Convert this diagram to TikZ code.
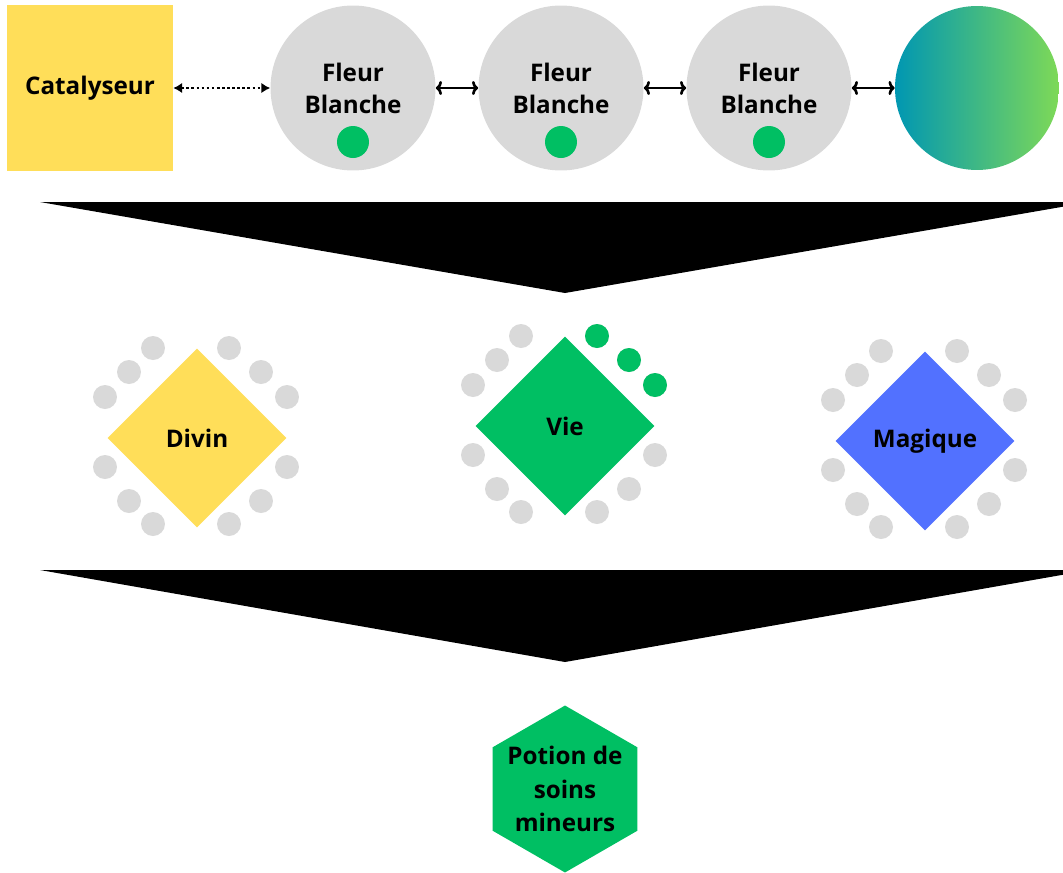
\documentclass[tikz,border=0pt]{standalone}
\usepackage{fontspec}
\setmainfont{Open Sans}
\definecolor{clYellow}{HTML}{FFDE59}
\definecolor{clGreen}{HTML}{00BF63}
\definecolor{clBlue}{HTML}{5271FF}
\definecolor{clGrey}{HTML}{D9D9D9}
\definecolor{clTeal}{HTML}{0097B2}
\definecolor{clLime}{HTML}{7ED957}
\usepackage{tikz}
\usetikzlibrary{arrows.meta,positioning,calc,shapes.geometric}

\begin{document}
\begin{tikzpicture}[x=0.02cm,y=-0.02cm,
  every node/.style={font=\fontsize{13.8}{18.2}\selectfont\bfseries,align=center,inner sep=0pt},
  flower/.style={circle,fill=clGrey,minimum size=3.3cm},
  seed/.style={circle,fill=clGreen,minimum size=0.64cm},
  bead/.style={circle,fill=clGrey,minimum size=0.48cm},
  gem/.style={diamond,minimum size=3.58cm},
  link/.style={line width=1.5pt,{To[length=3.5pt,width=8pt]}-{To[length=3.5pt,width=8pt]}}]
  \useasboundingbox (0,0) rectangle (1063,873);
  % top row
  \node[fill=clYellow,minimum width=3.32cm,minimum height=3.32cm] (cat) at (90,88) {Catalyseur};
  \foreach \i/\x in {1/353,2/561,3/769} {
    \node[flower] (f\i) at (\x,88) {Fleur\\Blanche};
    \node[seed] (s\i) at ($(f\i.center)+(0,54)$) {};
  }
  \node[circle,minimum size=3.28cm,left color=clTeal,right color=clLime] (orb) at (977,88) {};
  \draw[line width=1.5pt,dash pattern=on 1.5pt off 1.4pt,{Latex[length=5pt,width=6pt]}-{Latex[length=5pt,width=6pt]}] (cat) -- (f1);
  \foreach \a/\b in {f1/f2,f2/f3,f3/orb} \draw[link] (\a) -- (\b);
  % big arrows
  \fill (40,202) -- (1090,202) -- (565,293) -- cycle;
  \fill (40,570) -- (1090,570) -- (565,662) -- cycle;
  % elements
  \foreach \n/\x/\y/\c/\t in {divin/197/438/clYellow/Divin,vie/565/426/clGreen/Vie,magique/925/441/clBlue/Magique} {
    \node[gem,fill=\c] (\n) at (\x,\y) {\t};
    \foreach \dx/\dy in {-44/-90,32/-90,-68/-66,64/-66,-92/-41,90/-41,-92/29,90/29,-68/63,64/63,-44/86,32/86}
      \node[bead] at ($(\n)+(\dx,\dy)$) {};
  }
  \foreach \dx/\dy in {32/-90,64/-66,90/-41} \node[bead,fill=clGreen] at ($(vie)+(\dx,\dy)$) {};
  % result
  \node[regular polygon,regular polygon sides=6,shape border rotate=30,fill=clGreen,minimum size=3.34cm] (potion) at (565,789) {};
  \node[font=\fontsize{13.8}{19}\selectfont\bfseries] (potxt) at (potion) {Potion de\\soins\\mineurs};
\end{tikzpicture}
\end{document}
